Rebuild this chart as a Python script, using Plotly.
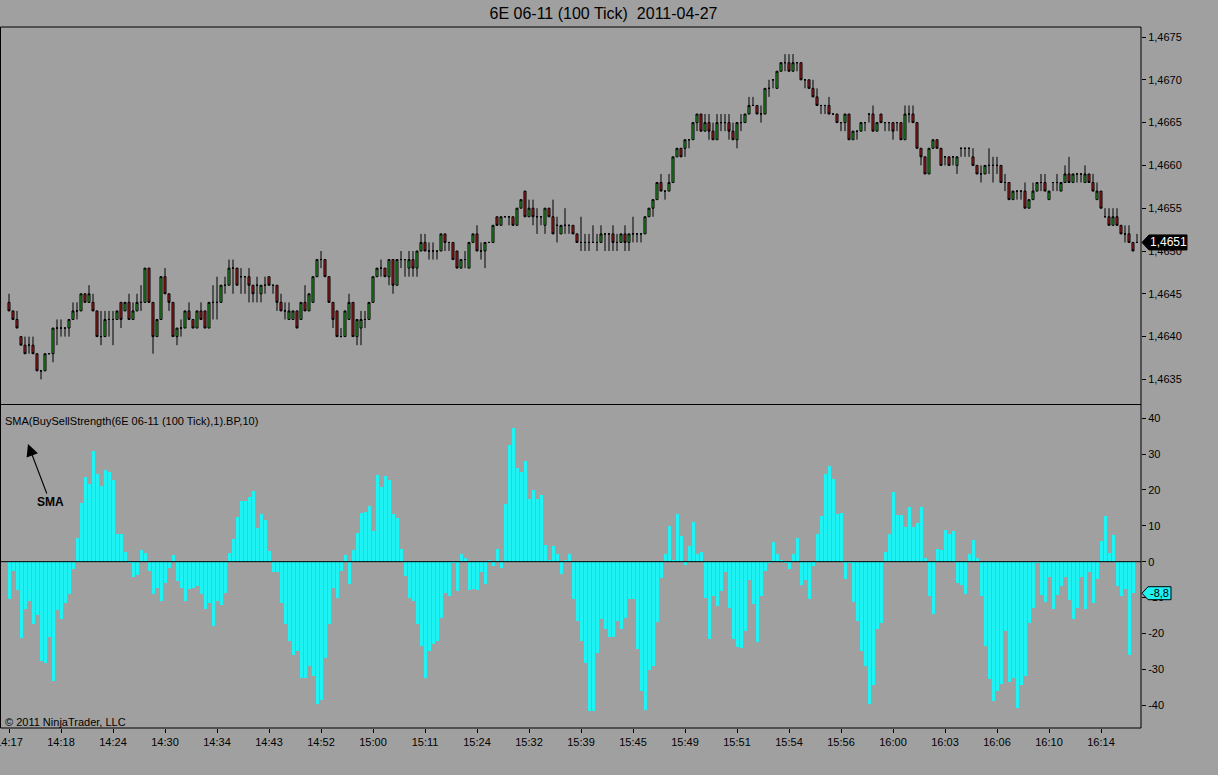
import plotly.graph_objects as go

# ---------------- DATA ----------------
BASE_PRICE = 1.4650   # prices below are stored in pips relative to this level
PIP = 0.0001

open_pips = [
    -6, -7, -8, -10, -11, -11, -11, -12, -14, -14,
    -12, -12, -9, -9, -9, -9, -8, -7, -7, -5,
    -6, -6, -7, -10, -10, -8, -8, -8, -6, -7,
    -6, -8, -7, -6, -6, -2, -6, -10, -8, -3,
    -5, -6, -10, -9, -9, -7, -8, -9, -7, -7,
    -9, -6, -6, -6, -4, -4, -2, -2, -3, -3,
    -3, -4, -4, -5, -4, -3, -4, -4, -6, -7,
    -8, -8, -7, -8, -6, -7, -6, -3, -1, -1,
    -3, -6, -7, -10, -10, -8, -6, -10, -9, -8,
    -8, -6, -3, -2, -2, -3, -1, -4, -1, -1,
    -2, -1, -2, 0, 1, 0, 0, 0, 0, 2,
    1, 1, 0, -2, -1, -2, 1, 2, 0, 0,
    1, 1, 4, 3, 4, 4, 4, 3, 5, 7,
    4, 5, 4, 4, 3, 5, 4, 3, 2, 3,
    3, 3, 2, 1, 1, 1, 1, 1, 1, 2,
    2, 2, 1, 1, 2, 1, 2, 2, 2, 2,
    4, 5, 6, 8, 7, 7, 8, 11, 12, 12,
    13, 13, 15, 16, 14, 15, 14, 13, 15, 15,
    15, 14, 13, 15, 15, 16, 17, 17, 16, 16,
    19, 20, 19, 21, 22, 22, 21, 22, 22, 20,
    20, 19, 18, 17, 17, 17, 16, 16, 15, 15,
    16, 13, 14, 14, 15, 16, 16, 14, 16, 15,
    15, 15, 15, 15, 13, 16, 16, 15, 12, 11,
    9, 12, 13, 12, 11, 11, 11, 10, 12, 12,
    12, 11, 10, 9, 9, 10, 10, 10, 10, 8,
    8, 6, 7, 7, 7, 5, 6, 7, 8, 8,
    6, 8, 8, 7, 8, 9, 8, 9, 9, 8,
    9, 8, 6, 7, 4, 4, 3, 4, 3, 2,
    2, 1, 1,
]

high_pips = [
    -5, -7, -7, -10, -10, -10, -10, -12, -14, -12,
    -12, -9, -8, -8, -9, -8, -6, -6, -5, -5,
    -4, -5, -7, -7, -7, -7, -7, -7, -6, -6,
    -5, -6, -5, -4, -2, -2, -6, -8, -3, -2,
    -5, -6, -9, -8, -7, -6, -8, -7, -6, -7,
    -6, -4, -3, -4, -3, -1, -1, -2, -2, -3,
    -2, -4, -3, -4, -3, -3, -4, -4, -5, -6,
    -6, -7, -7, -6, -4, -5, -3, -1, 0, -1,
    -3, -6, -7, -9, -7, -5, -6, -8, -7, -7,
    -6, -3, -2, -1, -2, -1, -1, -1, 0, -1,
    0, 0, 0, 2, 2, 1, 1, 0, 2, 2,
    1, 1, 0, -1, 0, 1, 2, 3, 1, 1,
    1, 3, 4, 4, 4, 4, 4, 5, 6, 7,
    6, 6, 5, 4, 5, 5, 6, 4, 3, 5,
    3, 3, 2, 4, 2, 2, 3, 2, 3, 2,
    2, 3, 2, 2, 3, 2, 4, 2, 2, 4,
    5, 6, 8, 9, 7, 9, 11, 12, 12, 13,
    13, 15, 16, 16, 16, 16, 15, 16, 16, 16,
    16, 15, 15, 16, 16, 18, 18, 17, 17, 19,
    20, 20, 21, 22, 23, 23, 23, 22, 22, 20,
    20, 20, 19, 17, 17, 18, 16, 16, 15, 16,
    16, 14, 14, 15, 15, 16, 17, 15, 16, 15,
    15, 15, 15, 15, 17, 17, 17, 15, 12, 11,
    12, 13, 13, 12, 11, 11, 11, 11, 12, 12,
    12, 12, 10, 10, 10, 12, 11, 11, 10, 9,
    8, 7, 7, 7, 8, 6, 8, 8, 9, 9,
    7, 8, 9, 8, 10, 11, 9, 9, 9, 10,
    9, 9, 8, 7, 5, 5, 5, 5, 3, 3,
    3, 1, 2,
]

low_pips = [
    -7, -8, -9, -11, -12, -12, -12, -14, -15, -14,
    -12, -13, -11, -10, -10, -10, -8, -8, -7, -6,
    -6, -7, -10, -11, -10, -10, -11, -8, -9, -7,
    -8, -8, -7, -7, -6, -6, -12, -10, -8, -5,
    -7, -10, -11, -10, -9, -8, -9, -9, -8, -9,
    -9, -8, -8, -6, -5, -4, -5, -4, -5, -5,
    -6, -6, -6, -6, -5, -4, -5, -7, -7, -8,
    -8, -8, -9, -8, -7, -7, -6, -3, -2, -3,
    -6, -9, -10, -10, -10, -8, -10, -11, -11, -9,
    -8, -6, -3, -3, -3, -4, -5, -4, -2, -3,
    -3, -3, -3, 0, 0, -1, -1, -1, 0, 0,
    0, -1, -2, -2, -2, -2, 1, 0, -1, -2,
    1, 1, 3, 3, 4, 3, 3, 3, 5, 4,
    4, 3, 2, 3, 2, 4, 2, 1, 2, 2,
    2, 2, 1, 0, 0, 0, 1, 0, 1, 0,
    0, 0, 0, 1, 0, 0, 1, 1, 1, 2,
    4, 4, 6, 7, 6, 7, 8, 11, 11, 11,
    12, 13, 14, 14, 14, 13, 13, 13, 14, 14,
    13, 13, 12, 14, 15, 16, 17, 16, 15, 16,
    18, 19, 19, 21, 21, 21, 21, 21, 20, 19,
    19, 18, 17, 16, 16, 16, 16, 15, 14, 14,
    13, 13, 13, 14, 14, 15, 14, 14, 15, 14,
    14, 13, 14, 13, 13, 15, 15, 12, 10, 9,
    9, 12, 12, 10, 10, 10, 10, 9, 11, 11,
    11, 10, 9, 8, 9, 9, 8, 9, 8, 7,
    6, 6, 6, 6, 5, 5, 6, 7, 7, 7,
    6, 7, 7, 7, 8, 8, 8, 8, 8, 8,
    8, 7, 6, 5, 4, 3, 3, 3, 2, 1,
    1, 0, 1,
]

close_pips = [
    -7, -8, -9, -11, -12, -11, -12, -14, -14, -12,
    -12, -9, -9, -9, -9, -8, -7, -7, -5, -6,
    -5, -7, -10, -10, -8, -8, -8, -7, -8, -6,
    -8, -7, -6, -6, -2, -6, -10, -8, -3, -5,
    -6, -10, -9, -9, -7, -8, -9, -7, -8, -9,
    -6, -6, -6, -4, -4, -2, -2, -4, -3, -3,
    -4, -5, -4, -4, -4, -4, -4, -6, -7, -7,
    -7, -7, -9, -6, -7, -5, -3, -1, -1, -3,
    -6, -8, -10, -10, -7, -6, -10, -8, -8, -8,
    -6, -3, -2, -2, -3, -1, -4, -1, -1, -1,
    -1, -2, 0, 1, 0, 0, 0, 0, 2, 1,
    1, -1, -2, -1, -1, 1, 2, 0, 0, 1,
    1, 3, 3, 4, 4, 4, 3, 5, 6, 4,
    5, 4, 4, 4, 5, 4, 2, 3, 3, 3,
    3, 2, 1, 1, 1, 1, 1, 1, 2, 2,
    2, 1, 1, 2, 1, 2, 2, 2, 2, 4,
    5, 6, 8, 7, 7, 8, 11, 12, 11, 13,
    13, 15, 16, 14, 15, 14, 13, 15, 15, 15,
    14, 13, 15, 15, 16, 17, 17, 16, 16, 19,
    19, 20, 21, 22, 22, 21, 22, 22, 20, 20,
    19, 18, 17, 17, 17, 16, 16, 15, 15, 16,
    13, 14, 14, 15, 15, 16, 14, 15, 15, 15,
    15, 14, 15, 13, 16, 16, 15, 12, 11, 9,
    12, 13, 12, 10, 11, 10, 11, 11, 12, 12,
    12, 10, 9, 9, 10, 10, 10, 10, 8, 8,
    6, 7, 7, 7, 5, 6, 7, 8, 8, 7,
    7, 8, 8, 8, 9, 8, 9, 9, 9, 9,
    8, 7, 7, 5, 4, 3, 4, 3, 2, 2,
    1, 0, 1,
]

sma_values = [
    -10.3, -2.5, -8, -21.4, -13.3, -11, -17.5, -15, -27.8, -28.2,
    -21, -33.4, -13.5, -16, -11.5, -9, -2, 6.7, 16.5, 23.5,
    21.6, 31, 24.4, 21, 25.5, 25, 22.8, 7.6, 7.6, 2.8,
    -0.5, -4.2, -3.8, 3.3, 2.5, -2.6, -9, -7.3, -11, -5.9,
    -1.7, 1.9, -5.4, -7.3, -11, -7.7, -7.3, -6.8, -9, -13.3,
    -11.5, -18, -11, -12, -8.7, 2.5, 6.4, 12.5, 17, 17,
    18, 19.7, 9.5, 13.4, 11.6, 3, -3, -3, -11.5, -17.5,
    -22, -26, -25, -32.4, -32.4, -29, -32, -39.7, -38.5, -26.8,
    -17.5, -7.3, -10, -2.6, 1.9, -6.3, 3.3, 8.1, 13.7, 13.9,
    15.6, 8.6, 24.2, 20.7, 24, 22.8, 13.2, 12.3, 3.4, -4,
    -10, -11, -17.5, -23.6, -32.4, -25, -23, -22, -15.7, -8.7,
    -9.6, -0.3, -8.2, 2.2, 1.1, -8, -7.7, -8, -2.8, -6.3,
    0.3, -1.2, 3.6, -1.9, 16, 32.5, 37.2, 26.2, 24.9, 28.1,
    17.6, 20, 17.6, 18.5, 4.6, 0.2, 4.4, 2.2, -3.5, 0.3,
    2, -10.5, -16.6, -22.2, -28.2, -41.7, -41.7, -25.4, -16.1, -18.9,
    -21, -21, -16.6, -18.7, -15.7, -10.3, -10.3, -24.3, -36.2, -41.3,
    -30.1, -29, -16.9, -4.5, 2, 10, 0.2, 13.4, 7.2, -0.8,
    4.4, 11.2, 2, 2.7, -10, -21.5, -9.6, -12.4, -8.2, -3,
    -13, -21.7, -23.8, -24, -19.4, -5.1, -11.9, -22.5, -9.6, -2.6,
    -0.2, 5.5, 2, 0.2, -0.3, -2, 2, 6.7, -6.5, -5,
    -10.5, -1.2, 7.8, 12.8, 24.4, 26.7, 23, 13.2, 13.5, -4.8,
    -0.2, -11.3, -16.6, -25, -29.2, -39.7, -34.3, -18.7, -17, 2.7,
    7.8, 19.5, 13, 13, 9.8, 15.3, 9.8, 10.9, 15.3, 1.1,
    -9.6, -14.7, 3.4, 3.3, 8.9, 7.6, 8.6, -5.9, -6.6, -8.9,
    2.2, 6, 1.1, -9.6, -23.6, -32.7, -39, -36.2, -34, -19.4,
    -33.6, -32.4, -40.8, -34.3, -31.8, -17, -12.9, -0.2, -9.4, -11.3,
    -4.2, -13.3, -9.4, -6.8, -4.2, -10.8, -16.1, -12.9, -4.2, -13.3,
    -2.8, -11.5, -4.9, 5.8, 12.8, 2.3, 7.4, -6.8, -9.6, -7.5,
    -25.9, -8.8,
]

time_labels = ["14:17", "14:18", "14:24", "14:30", "14:34", "14:43", "14:52",
               "15:00", "15:11", "15:24", "15:32", "15:39", "15:45", "15:49",
               "15:51", "15:54", "15:56", "16:00", "16:03", "16:06", "16:10",
               "16:14"]
BARS_PER_LABEL = 13

price_tick_values = [1.4635, 1.4640, 1.4645, 1.4650, 1.4655, 1.4660, 1.4665, 1.4670, 1.4675]
price_tick_text = ["1,4635", "1,4640", "1,4645", "1,4650", "1,4655", "1,4660", "1,4665", "1,4670", "1,4675"]
sma_tick_values = [-40, -30, -20, -10, 0, 10, 20, 30, 40]
sma_tick_text = ["-40", "-30", "-20", "-10", "0", "10", "20", "30", "40"]

TITLE = "6E 06-11 (100 Tick)\u00a0 2011-04-27"
INDICATOR_LABEL = "SMA(BuySellStrength(6E 06-11 (100 Tick),1).BP,10)"
COPYRIGHT = "\u00a9 2011 NinjaTrader, LLC"

# ---------------- PREP ----------------
def to_price(p):
    return round(BASE_PRICE + p * PIP, 4)

opens = [to_price(p) for p in open_pips]
highs = [to_price(p) for p in high_pips]
lows = [to_price(p) for p in low_pips]
closes = [to_price(p) for p in close_pips]
bars = list(range(len(closes)))
sma_bars = list(range(len(sma_values)))
label_bars = [i * BARS_PER_LABEL for i in range(len(time_labels))]

# ---------------- STYLE / LAYOUT ----------------
W, H = 1218, 775
ML, MR, MT, MB = 0, 77, 27, 47
PW, PH = W - ML - MR, H - MT - MB
BG = "#a0a0a0"
UP = "#2eb82e"
DOWN = "#c42020"
CYAN = "#1ef2f2"
FONT = "Liberation Sans, Arial, sans-serif"
PX_PER_PIP = 8.56


def fx(px):
    return (px - ML) / PW


def fy(py):
    return (H - MB - py) / PH


fig = go.Figure()

fig.add_trace(go.Candlestick(
    x=bars, open=opens, high=highs, low=lows, close=closes,
    xaxis="x", yaxis="y",
    increasing=dict(line=dict(color="black", width=1), fillcolor=UP),
    decreasing=dict(line=dict(color="black", width=1), fillcolor=DOWN),
    whiskerwidth=0, showlegend=False, hoverinfo="skip",
))

fig.add_trace(go.Bar(
    x=sma_bars, y=sma_values, width=0.75,
    marker=dict(color=CYAN, line=dict(width=0)),
    xaxis="x", yaxis="y2", showlegend=False, hoverinfo="skip",
))

top_lo = BASE_PRICE + (251 - 404) / PX_PER_PIP * PIP
top_hi = BASE_PRICE + (251 - MT) / PX_PER_PIP * PIP

fig.update_layout(
    width=W, height=H,
    margin=dict(l=ML, r=MR, t=MT, b=MB, pad=0, autoexpand=False),
    paper_bgcolor=BG, plot_bgcolor=BG,
    font=dict(family=FONT, size=11, color="black"),
    boxgap=0.28,
    title=dict(text=TITLE, x=603.5 / W, xref="container", xanchor="center",
               y=1 - 13 / H, yref="container", yanchor="middle",
               font=dict(family=FONT, size=16, color="black")),
    xaxis=dict(
        domain=[0, 1], anchor="y2", range=[-2.25, 283.0],
        tickmode="array", tickvals=label_bars, ticktext=time_labels,
        ticks="outside", ticklen=4, tickcolor="black", tickwidth=1,
        tickfont=dict(size=11, family=FONT), ticklabeloverflow="allow",
        showgrid=False, zeroline=False, showline=False, automargin=False,
        rangeslider=dict(visible=False),
    ),
    yaxis=dict(
        domain=[fy(404), 1], anchor="x", side="right",
        range=[top_lo, top_hi], automargin=False,
        tickmode="array", tickvals=price_tick_values, ticktext=price_tick_text,
        ticks="outside", ticklen=4, tickcolor="black",
        tickfont=dict(size=11, family=FONT),
        showgrid=False, zeroline=False, showline=False,
    ),
    yaxis2=dict(
        domain=[0, fy(405)], anchor="x", side="right",
        range=[-46.4, 43.7], automargin=False,
        tickmode="array", tickvals=sma_tick_values, ticktext=sma_tick_text,
        ticks="outside", ticklen=4, tickcolor="black",
        tickfont=dict(size=11, family=FONT),
        showgrid=False, zeroline=False, showline=False,
    ),
    bargap=0,
)

shapes = [
    # frame around both panels
    dict(type="rect", xref="paper", yref="paper", x0=fx(0.5), x1=1, y0=0, y1=1,
         line=dict(color="black", width=1), layer="above"),
    # separator between panels
    dict(type="line", xref="paper", yref="paper", x0=0, x1=1, y0=fy(404.5), y1=fy(404.5),
         line=dict(color="black", width=1), layer="above"),
    # zero line of the indicator panel
    dict(type="line", xref="paper", yref="y2", x0=0, x1=1, y0=0, y1=0,
         line=dict(color="black", width=1), layer="above"),
]

# last-price marker (black, white text)
last_price = closes[-1]
half = 7.5 / PX_PER_PIP * PIP
shapes.append(dict(
    type="path", xref="paper", yref="y",
    path=(f"M {fx(1142)},{last_price} L {fx(1149)},{last_price + half} "
          f"L {fx(1187)},{last_price + half} L {fx(1187)},{last_price - half} "
          f"L {fx(1149)},{last_price - half} Z"),
    fillcolor="black", line=dict(color="black", width=1), layer="above"))

# last-value marker of the indicator (cyan)
last_sma = sma_values[-1]
half2 = 6.5 / 3.584
shapes.append(dict(
    type="path", xref="paper", yref="y2",
    path=(f"M {fx(1142)},{last_sma} L {fx(1148)},{last_sma + half2} "
          f"L {fx(1171)},{last_sma + half2} L {fx(1171)},{last_sma - half2} "
          f"L {fx(1148)},{last_sma - half2} Z"),
    fillcolor=CYAN, line=dict(color="black", width=1), layer="above"))

fig.update_layout(shapes=shapes)

annotations = [
    dict(text=INDICATOR_LABEL, xref="paper", yref="paper", x=fx(3), y=fy(421),
         xanchor="left", yanchor="middle", showarrow=False,
         font=dict(family=FONT, size=11, color="black")),
    dict(text=COPYRIGHT, xref="paper", yref="paper", x=fx(3), y=fy(722),
         xanchor="left", yanchor="middle", showarrow=False,
         font=dict(family=FONT, size=11, color="black")),
    dict(text="<b>SMA</b>", xref="paper", yref="paper", x=fx(28), y=fy(444),
         ax=22, ay=58, axref="pixel", ayref="pixel",
         showarrow=True, arrowhead=2, arrowsize=2.2, arrowwidth=1.1,
         arrowcolor="black", standoff=0, startstandoff=0,
         font=dict(family=FONT, size=12, color="black")),
    dict(text=f"{last_price:.4f}".replace(".", ","), xref="paper", yref="y",
         x=fx(1168), y=last_price, xanchor="center", yanchor="middle",
         showarrow=False, font=dict(family=FONT, size=12, color="white")),
    dict(text=f"{last_sma:.1f}".replace(".", ","), xref="paper", yref="y2",
         x=fx(1159), y=last_sma, xanchor="center", yanchor="middle",
         showarrow=False, font=dict(family=FONT, size=11, color="black")),
]
fig.update_layout(annotations=annotations)

fig.write_html(
    "out.html",
    config={"displayModeBar": False},
    post_script="document.body.style.margin='0px';document.body.style.overflow='hidden';",
)
